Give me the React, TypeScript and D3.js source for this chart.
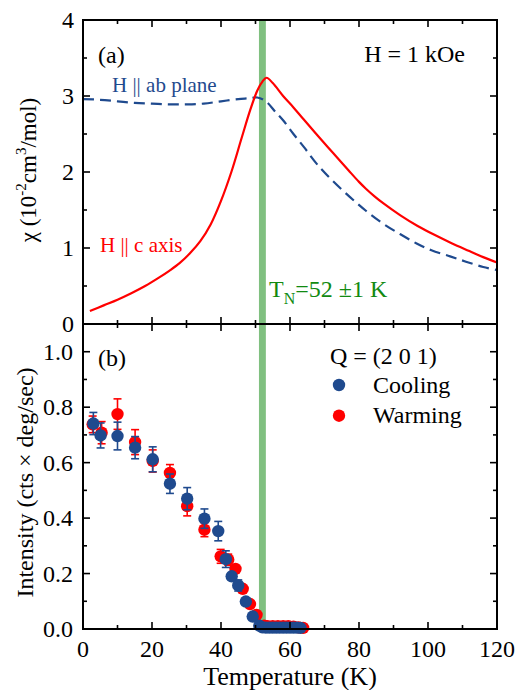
import * as d3 from 'd3';

// susceptibility, H || c axis (T in K, chi in 10^-2 cm^3/mol)
const chiC: [number, number][] = [
  [2, 0.17], [6, 0.245], [10, 0.32], [14, 0.405], [18, 0.5], [22, 0.61], [25, 0.7],
  [28, 0.8], [31, 0.93], [34, 1.09], [37, 1.31], [40, 1.62], [43, 2.0], [46, 2.45],
  [48.5, 2.82], [50.5, 3.07], [52, 3.19], [53.2, 3.24], [55, 3.17], [58, 3.0],
  [61, 2.85], [64, 2.69], [68, 2.48], [72.5, 2.25], [77, 2.02], [80, 1.87], [82, 1.78],
  [84.5, 1.68], [87, 1.59], [92, 1.43], [97, 1.29], [102, 1.17], [107, 1.06], [112, 0.96],
  [116, 0.88], [120, 0.81],
];

// susceptibility, H || ab plane
const chiAB: [number, number][] = [
  [0, 2.96], [5, 2.95], [10, 2.93], [15, 2.91], [20, 2.9], [25, 2.89], [30, 2.89],
  [35, 2.9], [40, 2.93], [45, 2.96], [48, 2.97], [50.5, 2.98], [53, 2.93], [55.6, 2.8],
  [58, 2.68], [61, 2.5], [64, 2.33], [67.7, 2.11], [72, 1.9], [77.4, 1.67], [82, 1.49],
  [87, 1.32], [92, 1.18], [96.7, 1.06], [101, 0.97], [106.4, 0.89], [111, 0.82],
  [116, 0.75], [120, 0.71],
];

// neutron intensity: [T, I, err]
const cooling: [number, number, number][] = [
  [3, 0.741, 0.04], [5.1, 0.698, 0.045], [10, 0.696, 0.05], [15.1, 0.654, 0.04],
  [20.2, 0.612, 0.045], [25.2, 0.524, 0.035], [30.2, 0.47, 0.04], [35.2, 0.398, 0.035],
  [39.2, 0.353, 0.035], [41.4, 0.252, 0.03], [43.1, 0.19, 0], [45, 0.157, 0.02],
  [47.2, 0.099, 0], [49.2, 0.045, 0], [51.1, 0.012, 0], [52, 0.006, 0], [53, 0.005, 0],
  [54, 0.005, 0], [55, 0.005, 0], [56, 0.005, 0], [57, 0.005, 0], [58, 0.005, 0],
  [59, 0.005, 0], [60, 0.005, 0], [61, 0.005, 0], [62, 0.005, 0], [63, 0.004, 0],
];

const warming: [number, number, number][] = [
  [2.8, 0.738, 0.03], [5.4, 0.708, 0.04], [10, 0.775, 0.055], [15.1, 0.674, 0.045],
  [20.2, 0.606, 0.04], [25.2, 0.563, 0.03], [30.2, 0.443, 0.035], [35.2, 0.358, 0.025],
  [39.9, 0.262, 0.025], [42.1, 0.25, 0.02], [44.2, 0.217, 0], [46.3, 0.145, 0],
  [48.4, 0.09, 0], [50.3, 0.051, 0], [52.5, 0.012, 0], [53.5, 0.01, 0], [55, 0.01, 0],
  [56.5, 0.01, 0], [58, 0.01, 0], [59.5, 0.01, 0], [61, 0.008, 0], [62.5, 0.006, 0],
  [63.8, 0.004, 0],
];

const xTicks = [0, 20, 40, 60, 80, 100, 120];
const chiTicks = [0, 1, 2, 3, 4];
const intTicks = [0, 0.2, 0.4, 0.6, 0.8, 1.0];

const TN = 52;
const TNerr = 1;

const BLUE = '#1f4a8e';
const RED = '#ff0000';
const FONT = "'Liberation Serif', 'DejaVu Serif', serif";

export default function App() {
  const left = 83, right = 497;
  const top = 20, mid = 324, bottom = 629;

  const x = d3.scaleLinear().domain([0, 120]).range([left, right]);
  const yA = d3.scaleLinear().domain([0, 4]).range([mid, top]);
  const yB = d3.scaleLinear().domain([0, 1.1]).range([bottom, mid]);

  const lineA = d3.line<[number, number]>()
    .x(d => x(d[0]))
    .y(d => yA(d[1]))
    .curve(d3.curveCatmullRom.alpha(0.5));

  const xMinor = d3.range(10, 120, 10);
  const chiMinor = d3.range(0.5, 4, 0.5);
  const intMinor = d3.range(0.1, 1.05, 0.1);

  const tickLines: JSX.Element[] = [];
  const addX = (y0: number, dir: number, key: string) => {
    xMinor.forEach(t => {
      const len = t % 20 === 0 ? 7 : 4;
      tickLines.push(<line key={`${key}${t}`} x1={x(t)} x2={x(t)} y1={y0} y2={y0 + dir * len} />);
    });
  };
  addX(mid, -1, 'am');
  addX(top, 1, 'at');
  addX(mid, 1, 'bt');
  addX(bottom, -1, 'bb');

  const addY = (scale: d3.ScaleLinear<number, number>, vals: number[], len: number, key: string) => {
    vals.forEach(v => {
      const y = scale(v);
      tickLines.push(<line key={`${key}l${v}`} x1={left} x2={left + len} y1={y} y2={y} />);
      tickLines.push(<line key={`${key}r${v}`} x1={right} x2={right - len} y1={y} y2={y} />);
    });
  };
  addY(yA, chiTicks.slice(1, 4), 7, 'ma');
  addY(yA, chiMinor.filter(v => v % 1 !== 0), 4, 'na');
  addY(yB, intTicks.slice(1), 7, 'mb');
  addY(yB, intMinor.filter(v => Math.round(v * 10) % 2 === 1), 4, 'nb');

  const points = (data: [number, number, number][], color: string, key: string) =>
    data.map((d, i) => {
      const cx = x(d[0]);
      const cy = yB(d[1]);
      return (
        <g key={`${key}${i}`}>
          {d[2] > 0 && (
            <g stroke={color} strokeWidth={1.6}>
              <line x1={cx} x2={cx} y1={yB(d[1] - d[2])} y2={yB(d[1] + d[2])} />
              <line x1={cx - 4} x2={cx + 4} y1={yB(d[1] - d[2])} y2={yB(d[1] - d[2])} />
              <line x1={cx - 4} x2={cx + 4} y1={yB(d[1] + d[2])} y2={yB(d[1] + d[2])} />
            </g>
          )}
          <circle cx={cx} cy={cy} r={6.2} fill={color} />
        </g>
      );
    });

  return (
    <svg width={523} height={690} style={{ position: 'absolute', left: 0, top: 0, background: '#fff', fontFamily: FONT }}>
      {/* Néel temperature band */}
      <rect x={x(TN - TNerr)} y={top} width={x(TN + TNerr) - x(TN - TNerr)} height={bottom - top}
        fill="#80c080" />

      {/* panel (a) curves */}
      <path d={lineA(chiAB) ?? ''} fill="none" stroke={BLUE} strokeWidth={2.2} strokeDasharray="11,6" />
      <path d={lineA(chiC) ?? ''} fill="none" stroke={RED} strokeWidth={2.2} />

      {/* panel (b) points */}
      {points(warming, RED, 'w')}
      {points(cooling, BLUE, 'c')}

      {/* frames and ticks */}
      <g fill="none" stroke="#000" strokeWidth={2}>
        <rect x={left} y={top} width={right - left} height={bottom - top} />
        <line x1={left} x2={right} y1={mid} y2={mid} />
      </g>
      <g stroke="#000" strokeWidth={1.6}>{tickLines}</g>

      {/* tick labels */}
      <g fontSize={24} fill="#000">
        {chiTicks.map(v => (
          <text key={`ca${v}`} x={left - 9} y={yA(v) + 8} textAnchor="end">{v}</text>
        ))}
        {intTicks.map(v => (
          <text key={`ib${v}`} x={left - 10} y={yB(v) + 8} textAnchor="end">{v.toFixed(1)}</text>
        ))}
        {xTicks.map(v => (
          <text key={`xt${v}`} x={x(v)} y={bottom + 28} textAnchor="middle">{v}</text>
        ))}
      </g>

      {/* axis titles */}
      <text fontSize={26} x={290} y={685} textAnchor="middle">Temperature (K)</text>
      <text fontSize={23} transform={`translate(36,${(top + mid) / 2 - 2}) rotate(-90)`} textAnchor="middle">
        χ (10<tspan fontSize={15} dy={-10}>-2</tspan><tspan dy={10}>cm</tspan>
        <tspan fontSize={15} dy={-10}>3</tspan><tspan dy={10}>/mol)</tspan>
      </text>
      <text fontSize={24} transform={`translate(33,${(mid + bottom) / 2 + 6}) rotate(-90)`} textAnchor="middle">
        Intensity (cts × deg/sec)
      </text>

      {/* annotations panel (a) */}
      <text fontSize={24} x={98} y={63}>(a)</text>
      <text fontSize={24} x={465} y={62} textAnchor="end">H = 1 kOe</text>
      <text fontSize={21} x={112} y={92} fill={BLUE}>H || ab plane</text>
      <text fontSize={21} x={100} y={252} fill={RED}>H || c axis</text>
      <text fontSize={24} x={269} y={297} fill="#118a11">
        T<tspan fontSize={16} dy={7}>N</tspan><tspan dy={-7}>=52 ±1 K</tspan>
      </text>

      {/* annotations panel (b) */}
      <text fontSize={24} x={98} y={366}>(b)</text>
      <text fontSize={24} x={330} y={364}>Q = (2 0 1)</text>
      <circle cx={339} cy={385} r={6.2} fill={BLUE} />
      <text fontSize={24} x={373} y={393}>Cooling</text>
      <circle cx={339} cy={415.7} r={6.2} fill={RED} />
      <text fontSize={24} x={373} y={423}>Warming</text>
    </svg>
  );
}
